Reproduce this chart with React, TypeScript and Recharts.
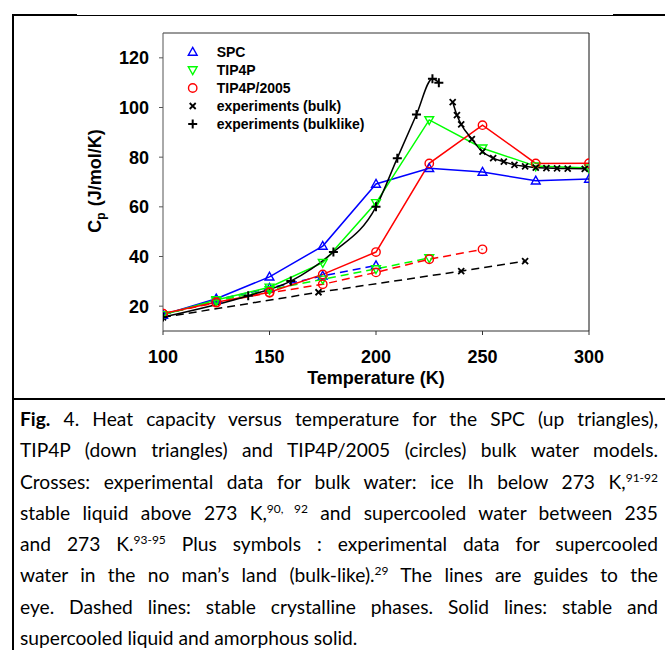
import React from "react";
import { LineChart, Line, XAxis, YAxis, Legend } from "recharts";

const BLUE = "#0000ff";
const GREEN = "#00ff00";
const RED = "#ff0000";
const BLACK = "#000000";

const xTicks = [100, 150, 200, 250, 300];
const yTicks = [20, 40, 60, 80, 100, 120];

// SPC (up triangles): solid = liquid / amorphous, dashed = crystal
const spcLiquidT = [100, 125, 150, 175, 200, 225, 250, 275, 300];
const spcLiquidCp = [16.5, 23, 31.8, 44.2, 69.2, 75.5, 74, 70.5, 71.2];
const spcCrystalT = [100, 125, 150, 175, 200];
const spcCrystalCp = [16.5, 22.5, 27.3, 32.2, 36.4];

// TIP4P (down triangles)
const tip4pLiquidT = [100, 125, 150, 175, 200, 225, 250, 275, 300];
const tip4pLiquidCp = [16.5, 22.5, 27.6, 37.5, 61.6, 95, 83.6, 76.4, 75.6];
const tip4pCrystalT = [100, 125, 150, 175, 200, 225];
const tip4pCrystalCp = [16.5, 22, 26.6, 30.8, 35, 39.4];

// TIP4P/2005 (circles)
const tip2005LiquidT = [100, 125, 150, 175, 200, 225, 250, 275, 300];
const tip2005LiquidCp = [17, 21.6, 25.6, 32.8, 41.8, 77.5, 92.9, 77.5, 77.6];
const tip2005CrystalT = [100, 125, 150, 175, 200, 225, 250];
const tip2005CrystalCp = [17, 21.4, 25.4, 28.8, 33.6, 38.9, 42.9];

// experiments (bulk): ice Ih (dashed) and liquid / supercooled (solid)
const bulkIceT = [100, 173, 240, 270];
const bulkIceCp = [15.5, 25.6, 34.1, 38.1];
const bulkLiquidT = [236, 238, 240, 245, 250, 255, 260, 265, 270, 275, 280, 285, 290, 298];
const bulkLiquidCp = [102.2, 96.9, 93.2, 87.3, 82.2, 79.6, 78.2, 76.9, 76.3, 75.8, 75.6, 75.5, 75.4, 75.3];

// experiments (bulklike)
const bulklikeT = [100, 140, 160, 180, 200, 210, 219, 226.5, 229.5];
const bulklikeCp = [15.6, 24.2, 30.1, 41.8, 60, 79.6, 97.2, 111.6, 110];

type Pt = { x: number; y: number };
type Shape = "up" | "down" | "circle" | "cross" | "plus";

const zip = (t: number[], c: number[]): Pt[] => t.map((x, i) => ({ x, y: c[i] }));

function Marker({ shape, cx, cy, color }: { shape: Shape; cx: number; cy: number; color: string }) {
  if (shape === "up")
    return (
      <path
        d={`M${cx},${cy - 4.6}L${cx + 4.4},${cy + 3.2}L${cx - 4.4},${cy + 3.2}Z`}
        fill="none"
        stroke={color}
        strokeWidth={1.4}
      />
    );
  if (shape === "down")
    return (
      <path
        d={`M${cx},${cy + 4.6}L${cx + 4.4},${cy - 3.2}L${cx - 4.4},${cy - 3.2}Z`}
        fill="none"
        stroke={color}
        strokeWidth={1.4}
      />
    );
  if (shape === "circle")
    return <circle cx={cx} cy={cy} r={4.2} fill="none" stroke={color} strokeWidth={1.4} />;
  if (shape === "cross")
    return (
      <path
        d={`M${cx - 3},${cy - 3}L${cx + 3},${cy + 3}M${cx - 3},${cy + 3}L${cx + 3},${cy - 3}`}
        stroke={color}
        strokeWidth={1.8}
      />
    );
  return (
    <path
      d={`M${cx - 4.5},${cy}L${cx + 4.5},${cy}M${cx},${cy - 4.5}L${cx},${cy + 4.5}`}
      stroke={color}
      strokeWidth={2}
    />
  );
}

const dotFor = (id: string, shape: Shape, color: string) => (p: any) => (
  <g key={`${id}-${p.index}`}>
    {p.cx != null && p.cy != null && <Marker shape={shape} cx={p.cx} cy={p.cy} color={color} />}
  </g>
);

const series = [
  { id: "iceBulk", data: zip(bulkIceT, bulkIceCp), color: BLACK, shape: "cross" as Shape, dashed: true, smooth: false },
  { id: "spcX", data: zip(spcCrystalT, spcCrystalCp), color: BLUE, shape: "up" as Shape, dashed: true, smooth: false },
  { id: "tip4pX", data: zip(tip4pCrystalT, tip4pCrystalCp), color: GREEN, shape: "down" as Shape, dashed: true, smooth: false },
  { id: "tip2005X", data: zip(tip2005CrystalT, tip2005CrystalCp), color: RED, shape: "circle" as Shape, dashed: true, smooth: false },
  { id: "spcL", data: zip(spcLiquidT, spcLiquidCp), color: BLUE, shape: "up" as Shape, dashed: false, smooth: false },
  { id: "tip4pL", data: zip(tip4pLiquidT, tip4pLiquidCp), color: GREEN, shape: "down" as Shape, dashed: false, smooth: false },
  { id: "tip2005L", data: zip(tip2005LiquidT, tip2005LiquidCp), color: RED, shape: "circle" as Shape, dashed: false, smooth: false },
  { id: "bulkL", data: zip(bulkLiquidT, bulkLiquidCp), color: BLACK, shape: "cross" as Shape, dashed: false, smooth: true },
  { id: "bulklike", data: zip(bulklikeT, bulklikeCp), color: BLACK, shape: "plus" as Shape, dashed: false, smooth: true },
];

const legendItems: { label: string; shape: Shape; color: string }[] = [
  { label: "SPC", shape: "up", color: BLUE },
  { label: "TIP4P", shape: "down", color: GREEN },
  { label: "TIP4P/2005", shape: "circle", color: RED },
  { label: "experiments (bulk)", shape: "cross", color: BLACK },
  { label: "experiments (bulklike)", shape: "plus", color: BLACK },
];

const renderLegend = () => (
  <div style={{ fontFamily: "'Liberation Sans', Arial, sans-serif", fontWeight: 700, fontSize: 14, color: "#000" }}>
    {legendItems.map((it) => (
      <div key={it.label} style={{ display: "flex", alignItems: "center", height: 18 }}>
        <svg width={24} height={18} style={{ display: "block" }}>
          <Marker shape={it.shape} cx={12.7} cy={9} color={it.color} />
        </svg>
        <span style={{ marginLeft: 12.7, lineHeight: "18px" }}>{it.label}</span>
      </div>
    ))}
  </div>
);

const renderXTitle = () => (
  <text x={376} y={384} textAnchor="middle" fontSize={18} fontWeight={700} fill="#000">
    Temperature (K)
  </text>
);

const renderYTitle = () => (
  <text transform="rotate(-90 101 181)" x={101} y={181} textAnchor="middle" fontSize={18} fontWeight={700} fill="#000">
    C
    <tspan fontSize={12} dy={4}>
      p
    </tspan>
    <tspan dy={-4} dx={6}>
      (J/mol/K)
    </tspan>
  </text>
);

const captionFont = "Lato, 'Open Sans', sans-serif";
const sup = (s: string) => <sup style={{ fontSize: 12, lineHeight: 0 }}>{s}</sup>;

const captionLines: React.ReactNode[] = [
  <>
    <b>Fig.</b> 4. Heat capacity versus temperature for the SPC (up triangles),
  </>,
  <>TIP4P (down triangles) and TIP4P/2005 (circles) bulk water models.</>,
  <>Crosses: experimental data for bulk water: ice Ih below 273 K,{sup("91-92")}</>,
  <>stable liquid above 273 K,{sup("90, 92")} and supercooled water between 235</>,
  <>and 273 K.{sup("93-95")} Plus symbols : experimental data for supercooled</>,
  <>water in the no man’s land (bulk-like).{sup("29")} The lines are guides to the</>,
  <>eye. Dashed lines: stable crystalline phases. Solid lines: stable and</>,
  <>supercooled liquid and amorphous solid.</>,
];

export default function App() {
  return (
    <div
      style={{
        position: "absolute",
        left: 0,
        top: 0,
        width: 665,
        height: 650,
        overflow: "hidden",
        background: "#fff",
        fontFamily: "'Liberation Sans', Arial, sans-serif",
      }}
    >
      {/* outer figure frame */}
      <div style={{ position: "absolute", left: 12, top: 14, width: 2, height: 636, background: "#000" }} />
      <div style={{ position: "absolute", left: 12, top: 14, width: 65, height: 2, background: "#000" }} />
      <div style={{ position: "absolute", left: 77, top: 15, width: 536, height: 1, background: "#000" }} />
      <div style={{ position: "absolute", left: 613, top: 14, width: 52, height: 2, background: "#000" }} />
      <div style={{ position: "absolute", left: 12, top: 397.5, width: 653, height: 2.5, background: "#000" }} />

      <div style={{ position: "absolute", left: 0, top: 0 }}>
        <LineChart width={665} height={400} margin={{ top: 32, right: 75, bottom: 29, left: 8 }}>
          <XAxis
            xAxisId="bottom"
            type="number"
            dataKey="x"
            domain={[100, 300]}
            ticks={xTicks}
            allowDataOverflow
            height={40}
            tickSize={4}
            tickMargin={15}
            stroke="#333"
            tick={{ fill: "#000", fontSize: 18, fontWeight: 700 }}
            label={renderXTitle}
          />
          <XAxis
            xAxisId="top"
            orientation="top"
            type="number"
            dataKey="x"
            domain={[100, 300]}
            height={1}
            tick={false}
            tickLine={false}
            stroke="#333"
          />
          <YAxis
            yAxisId="left"
            type="number"
            domain={[10, 130]}
            ticks={yTicks}
            allowDataOverflow
            width={155}
            tickSize={4}
            tickMargin={10}
            stroke="#555"
            tick={{ fill: "#000", fontSize: 18, fontWeight: 700 }}
            label={renderYTitle}
          />
          <YAxis
            yAxisId="right"
            orientation="right"
            type="number"
            domain={[10, 130]}
            width={1}
            tick={false}
            tickLine={false}
            stroke="#111"
          />
          <Legend
            layout="vertical"
            align="center"
            verticalAlign="middle"
            content={renderLegend}
            wrapperStyle={{ position: "absolute", left: 180, top: 43.3, width: 220 }}
          />
          {series.map((s) => (
            <Line
              key={s.id}
              xAxisId="bottom"
              yAxisId="left"
              data={s.data}
              dataKey="y"
              type={s.smooth ? "monotone" : "linear"}
              stroke={s.color}
              strokeWidth={1.5}
              strokeDasharray={s.dashed ? "8 5" : undefined}
              dot={dotFor(s.id, s.shape, s.color)}
              activeDot={false}
              legendType="none"
              isAnimationActive={false}
            />
          ))}
        </LineChart>
      </div>

      {/* caption */}
      <div
        style={{
          position: "absolute",
          left: 20,
          top: 403,
          width: 638,
          fontFamily: captionFont,
          fontSize: 19.2,
          lineHeight: "31.3px",
          color: "#000",
        }}
      >
        {captionLines.map((ln, i) => (
          <div
            key={i}
            style={{
              textAlign: i === captionLines.length - 1 ? "left" : "justify",
              textAlignLast: i === captionLines.length - 1 ? "left" : "justify",
              whiteSpace: "nowrap",
            }}
          >
            {ln}
          </div>
        ))}
      </div>
    </div>
  );
}
